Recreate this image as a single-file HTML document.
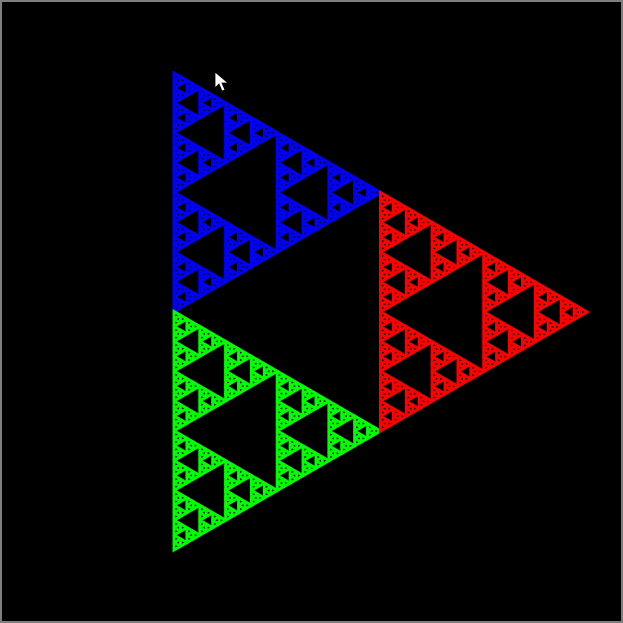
<!DOCTYPE html>
<html><head><meta charset="utf-8"><style>
html,body{margin:0;padding:0;background:#000;}
#wrap{width:619px;height:619px;border:2px solid #7f7f7f;background:#000;position:relative;}
svg{display:block}
</style></head><body>
<div id="wrap">
<svg id="s" width="619" height="619" viewBox="2 2 619 619">
<polygon points="215,72 215,88 219,84 222,91 225,90 222,83 228,83" fill="#fff" stroke="#000" stroke-width="0.8"/>
</svg>
</div>
<script>
const outerVertices = [[174,73],[174,550],[587,312]];
const partColors = ["#0000ff","#00ff00","#ff0000"];
const depth = 5;
const svg = document.getElementById('s');
const NS = 'http://www.w3.org/2000/svg';
function mid(a,b){return [(a[0]+b[0])/2,(a[1]+b[1])/2];}
function draw(a,b,c,d,g,col){
  if(d===0){
    const p=document.createElementNS(NS,'polygon');
    p.setAttribute('points',[a,b,c].map(v=>v.join(',')).join(' '));
    p.setAttribute('fill','none');p.setAttribute('stroke',col);p.setAttribute('stroke-width','2.9');
    p.setAttribute('stroke-linejoin','miter');
    g.appendChild(p);return;
  }
  const ab=mid(a,b),bc=mid(b,c),ca=mid(c,a);
  draw(a,ab,ca,d-1,g,col);draw(ab,b,bc,d-1,g,col);draw(ca,bc,c,d-1,g,col);
}
const [A,B,C]=outerVertices;
const parts=[[A,mid(A,B),mid(A,C)],[mid(A,B),B,mid(B,C)],[mid(A,C),mid(B,C),C]];
const names=['blue-sub-triangle','green-sub-triangle','red-sub-triangle'];
const cursor=svg.firstElementChild;
parts.forEach((t,i)=>{
  const g=document.createElementNS(NS,'g');
  
  
  draw(t[0],t[1],t[2],depth,g,partColors[i]);
  svg.insertBefore(g,cursor);
});
</script>
</body></html>
